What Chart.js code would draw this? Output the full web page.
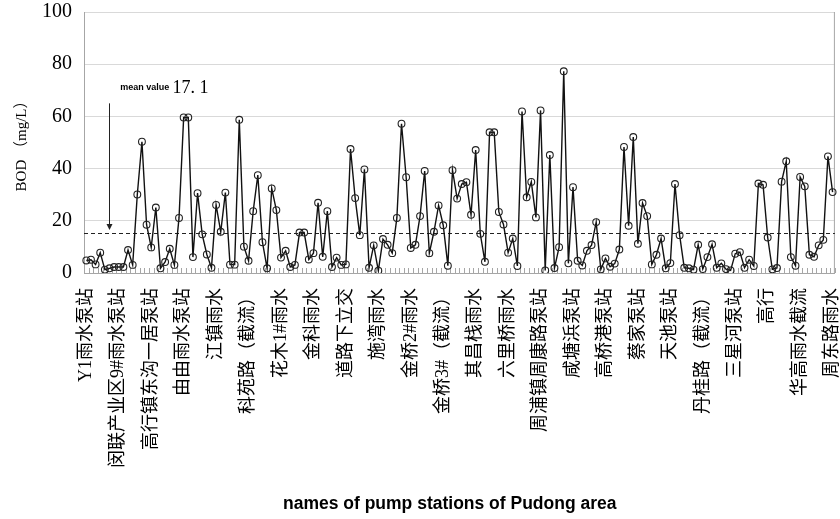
<!DOCTYPE html>
<html>
<head>
<meta charset="utf-8">
<script src="https://cdn.jsdelivr.net/npm/chart.js@4.4.0/dist/chart.umd.min.js"></script>
<style>
  html, body { margin: 0; padding: 0; background: #fff; }
  #wrap { width: 840px; height: 519px; }
</style>
</head>
<body>
<div id="wrap"><canvas id="myChart" width="840" height="519"></canvas></div>
<script>
// pump stations, one name shown every 7 samples
var stations = [
  "Y1雨水泵站", "闵联产业区9#雨水泵站", "高行镇东沟一居泵站", "由由雨水泵站",
  "江镇雨水", "科苑路（截流）", "花木1#雨水", "金科雨水", "道路下立交",
  "施湾雨水", "金桥2#雨水", "金桥3#（截流）", "其昌栈雨水", "六里桥雨水",
  "周浦镇周康路泵站", "咸塘浜泵站", "高桥港泵站", "蔡家泵站", "天池泵站",
  "丹桂路（截流）", "三星河泵站", "高行", "华高雨水截流", "周东路雨水"
];
var labelStep = 7;

// BOD (mg/L), read left to right off the figure
var bod = [
  4.8, 5.1, 3.3, 7.8, 1.3, 1.8, 2.3, 2.3, 2.3, 8.8, 3.1, 30.1, 50.3, 18.5, 9.8, 25.1, 1.8, 4.2, 9.3, 3.1, 21.1, 59.6, 59.6, 6.1, 30.6, 14.8, 7.1,
  2.0, 26.1, 15.8, 30.8, 3.2, 3.2, 58.7, 10.1, 4.7, 23.7, 37.5, 11.8, 1.8, 32.4, 24.1, 5.9, 8.5, 2.3, 3.1, 15.5, 15.5, 5.2, 7.6, 26.9, 6.2, 23.7, 2.3,
  5.9, 3.1, 3.3, 47.5, 28.7, 14.5, 39.7, 2.0, 10.6, 0.9, 13.0, 10.8, 7.6, 21.1, 57.2, 36.7, 9.6, 10.8, 21.8, 39.1, 7.6, 15.8, 25.9, 18.3, 2.8, 39.4, 28.5,
  34.1, 34.8, 22.3, 47.1, 15.0, 4.3, 53.9, 53.9, 23.4, 18.6, 7.8, 13.2, 2.7, 61.9, 29.0, 34.9, 21.3, 62.3, 1.0, 45.2, 1.9, 9.9, 77.3, 3.7, 32.9, 4.7, 2.9,
  8.5, 10.7, 19.5, 1.4, 5.6, 2.4, 3.6, 9.0, 48.3, 18.1, 52.1, 11.2, 26.8, 21.8, 3.3, 7.0, 13.2, 1.8, 3.8, 34.1, 14.5, 2.0, 1.8, 1.3, 10.8, 1.5, 6.1,
  11.0, 2.0, 3.7, 1.5, 1.0, 7.4, 8.0, 2.0, 5.1, 2.7, 34.3, 33.8, 13.6, 1.4, 1.9, 35.0, 42.8, 6.1, 2.8, 36.8, 33.2, 7.0, 6.2, 10.6, 12.7, 44.7, 31.0
];

var yTicks = [0, 20, 40, 60, 80, 100];

// dashed mean line and its note
var meanLine = 15.3;
var meanLabel = "mean value";
var meanText = "17. 1";

var labels = bod.map(function (v, i) {
  return i % labelStep === 0 ? stations[i / labelStep] : "";
});

var serif = "'Liberation Serif', 'Noto Sans CJK SC', serif";

// dashed line, arrow, note, inner ticks and right frame
var extras = {
  id: "extras",
  beforeDatasetsDraw: function (chart) {
    var ctx = chart.ctx;
    var a = chart.chartArea;
    var xs = chart.scales.x;
    var ys = chart.scales.y;
    ctx.save();
    // small ticks inside the bottom axis
    ctx.strokeStyle = "#a6a6a6";
    ctx.lineWidth = 1;
    ctx.beginPath();
    for (var i = 0; i <= bod.length; i++) {
      var x = Math.round(xs.getPixelForValue(i - 0.5)) + 0.5;
      ctx.moveTo(x, a.bottom);
      ctx.lineTo(x, a.bottom - 5);
    }
    ctx.stroke();
    // right frame
    ctx.beginPath();
    ctx.moveTo(a.right - 0.5, a.top);
    ctx.lineTo(a.right - 0.5, a.bottom);
    ctx.stroke();
    // mean line
    var ym = Math.round(ys.getPixelForValue(meanLine)) + 0.5;
    ctx.strokeStyle = "#222";
    ctx.setLineDash([4, 3]);
    ctx.beginPath();
    ctx.moveTo(a.left, ym);
    ctx.lineTo(a.right, ym);
    ctx.stroke();
    ctx.restore();
  },
  afterDraw: function (chart) {
    var ctx = chart.ctx;
    var xs = chart.scales.x;
    var ys = chart.scales.y;
    ctx.save();
    // arrow down to the mean line
    var ax = Math.round(xs.getPixelForValue(4.8)) + 0.5;
    var top = ys.getPixelForValue(65);
    var tip = ys.getPixelForValue(meanLine) - 3;
    ctx.strokeStyle = "#222";
    ctx.fillStyle = "#222";
    ctx.lineWidth = 1;
    ctx.beginPath();
    ctx.moveTo(ax, top);
    ctx.lineTo(ax, tip - 4);
    ctx.stroke();
    ctx.beginPath();
    ctx.moveTo(ax - 3, tip - 6);
    ctx.lineTo(ax + 3, tip - 6);
    ctx.lineTo(ax, tip);
    ctx.closePath();
    ctx.fill();
    // note text
    ctx.fillStyle = "#000";
    ctx.textBaseline = "alphabetic";
    ctx.font = "bold 9px 'Liberation Sans', Arial, sans-serif";
    ctx.fillText(meanLabel, xs.getPixelForValue(7.3), ys.getPixelForValue(70.2));
    ctx.font = "18px " + serif;
    ctx.fillText(meanText, xs.getPixelForValue(18.6), ys.getPixelForValue(69));
    ctx.restore();
  }
};

var ctx = document.getElementById("myChart").getContext("2d");

var myChart = new Chart(ctx, {
  type: "line",
  data: {
    labels: labels,
    datasets: [
      {
        label: "BOD",
        data: bod,
        borderColor: "#111",
        borderWidth: 1.4,
        tension: 0,
        pointRadius: 3.4,
        pointBorderWidth: 1.1,
        pointBorderColor: "#222",
        pointBackgroundColor: "rgba(255,255,255,0)",
      },
    ],
  },
  options: {
    responsive: false,
    animation: false,
    layout: { padding: { top: 12, right: 3, left: 0, bottom: 0 } },
    plugins: {
      legend: { display: false },
      tooltip: { enabled: false },
    },
    scales: {
      x: {
        offset: true,
        grid: { display: false, drawTicks: false },
        border: { color: "#a6a6a6" },
        ticks: {
          autoSkip: false,
          maxRotation: 90,
          minRotation: 90,
          padding: 15,
          color: "#000",
          font: { family: serif, size: 18 },
        },
        title: {
          display: true,
          // trailing spaces nudge it left like the original
          text: "names of pump stations of Pudong area    ",
          color: "#000",
          font: { family: "'Liberation Sans', Arial, sans-serif", size: 17.5, weight: "bold" },
          padding: { top: 0, bottom: 4 },
        },
        afterFit: function (scale) {
          scale.height = 246;
          scale.paddingLeft = 0;
          scale.paddingRight = 0;
        },
      },
      y: {
        min: 0,
        max: 100,
        grid: { color: "#d9d9d9", drawTicks: false },
        border: { color: "#a6a6a6" },
        afterBuildTicks: function (axis) {
          axis.ticks = yTicks.map(function (v) { return { value: v }; });
        },
        ticks: {
          padding: 12,
          color: "#000",
          font: { family: serif, size: 20 },
        },
        title: {
          display: true,
          text: "BOD （mg/L）",
          color: "#000",
          font: { family: serif, size: 15 },
          padding: { top: 13, bottom: 0 },
        },
        afterFit: function (scale) {
          scale.width = 84;
          scale.paddingTop = 0;
          scale.paddingBottom = 0;
        },
      },
    },
  },
  plugins: [extras],
});
</script>
</body>
</html>
